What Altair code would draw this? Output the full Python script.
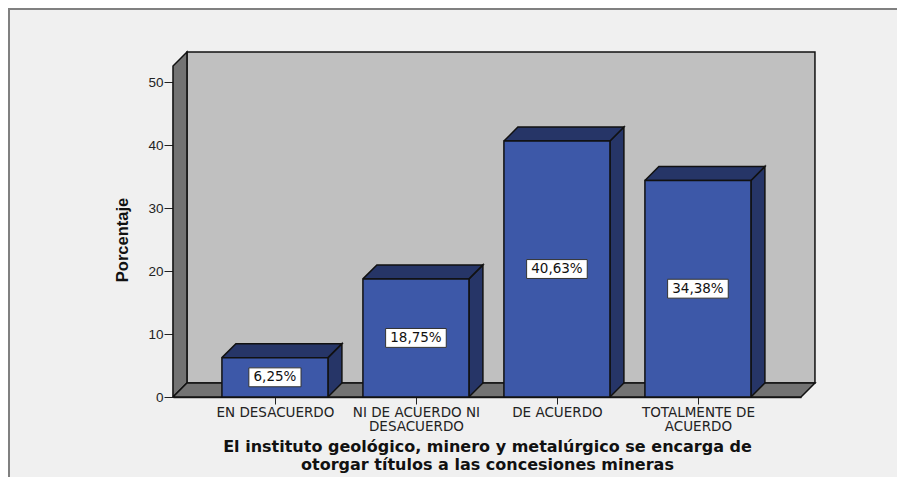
import altair as alt
import pandas as pd

categories = ["EN DESACUERDO", "NI DE ACUERDO NI|DESACUERDO", "DE ACUERDO", "TOTALMENTE DE|ACUERDO"]
values = [6.25, 18.75, 40.63, 34.38]
labels = ["6,25%", "18,75%", "40,63%", "34,38%"]
y_ticks = [0, 10, 20, 30, 40, 50]
x_title = ["El instituto geológico, minero y metalúrgico se encarga de",
           "otorgar títulos a  las concesiones mineras"]
y_title = "Porcentaje"

X0, X1 = -0.723, 3.731      # horizontal extent of the front of the plot, in category units
Y_TOP = 52.54               # top of the left wall
DX, DY = 0.099, 2.22        # depth of the 3D effect in data units
HW = 0.376                  # half width of a bar
BOX_W = {0: 0.185, 1: 0.215, 2: 0.215, 3: 0.215}
BOX_H = 1.5

FRONT, DARK = "#3D58A8", "#263567"
WALL, SIDEWALL = "#C0C0C0", "#737373"
BG = "#F0F0F0"


def poly(rows, pid, pts):
    for i, (x, y) in enumerate(pts):
        rows.append({"pid": pid, "i": i, "x": x, "y": y})


back, grey, dark = [], [], []
poly(back, "back", [(X0 + DX, DY), (X1 + DX, DY), (X1 + DX, Y_TOP + DY), (X0 + DX, Y_TOP + DY), (X0 + DX, DY)])
poly(grey, "left", [(X0, 0), (X0 + DX, DY), (X0 + DX, Y_TOP + DY), (X0, Y_TOP), (X0, 0)])
poly(grey, "floor", [(X0, 0), (X1, 0), (X1 + DX, DY), (X0 + DX, DY), (X0, 0)])
for k, v in enumerate(values):
    a, b = k - HW, k + HW
    poly(dark, f"side{k}", [(b, 0), (b + DX, DY), (b + DX, v + DY), (b, v), (b, 0)])
    poly(dark, f"top{k}", [(a, v), (b, v), (b + DX, v + DY), (a + DX, v + DY), (a, v)])

bars = pd.DataFrame({
    "a": [k - HW for k in range(4)], "b": [k + HW for k in range(4)],
    "zero": [0] * 4, "v": values, "c": list(range(4)), "mid": [v / 2 for v in values],
    "label": labels,
    "l": [k - BOX_W[k] for k in range(4)], "r": [k + BOX_W[k] for k in range(4)],
    "lo": [v / 2 - BOX_H for v in values], "hi": [v / 2 + BOX_H for v in values],
})

xs = alt.Scale(domain=[X0, X1], nice=False, zero=False)
ys = alt.Scale(domain=[0, 50], nice=False)
label_array = "[" + ",".join(
    "[" + ",".join(f"'{p}'" for p in c.split("|")) + "]" for c in categories) + "]"

x_axis = alt.Axis(values=[0, 1, 2, 3], labelExpr=f"{label_array}[datum.value]", title=x_title,
                  grid=False, tickSize=7, tickColor="#222222", domainColor="#222222", domainWidth=1.5,
                  labelFont="DejaVu Sans", labelFontSize=13.5, labelColor="#222222", labelPadding=1,
                  labelLineHeight=14.5, labelAngle=0, labelOverlap=False, labelBound=False, labelFlush=False,
                  titleFont="DejaVu Sans", titleFontSize=16, titleFontWeight="bold", titleColor="#111111",
                  titleLineHeight=18.7, titlePadding=5)
y_axis = alt.Axis(values=y_ticks, title=y_title, grid=False, tickSize=9, tickColor="#222222",
                  domainColor="#222222", domainWidth=1.5, labelFont="Liberation Sans", labelFontSize=13.5,
                  labelColor="#222222", labelPadding=1,
                  titleFont="Liberation Sans", titleFontSize=16.5, titleFontWeight="bold",
                  titleColor="#111111", titlePadding=17)


def faces(rows, fill):
    return alt.Chart(pd.DataFrame(rows)).mark_line(
        fill=fill, stroke="#111111", strokeWidth=1.5, clip=False, strokeJoin="miter"
    ).encode(
        x=alt.X("x:Q", scale=xs),
        y=alt.Y("y:Q", scale=ys),
        detail="pid:N",
        order="i:Q",
    )


axes = alt.Chart(bars).mark_point(opacity=0).encode(
    x=alt.X("c:Q", scale=xs, axis=x_axis),
    y=alt.Y("v:Q", scale=ys, axis=y_axis),
)
fronts = alt.Chart(bars).mark_rect(fill=FRONT, stroke="#111111", strokeWidth=1.5).encode(
    x=alt.X("a:Q", scale=xs), x2="b:Q",
    y=alt.Y("zero:Q", scale=ys), y2="v:Q",
)
boxes = alt.Chart(bars).mark_rect(fill="white", stroke="#333333", strokeWidth=1).encode(
    x=alt.X("l:Q", scale=xs), x2="r:Q",
    y=alt.Y("lo:Q", scale=ys), y2="hi:Q",
)
texts = alt.Chart(bars).mark_text(font="DejaVu Sans", fontSize=13.5, color="#111111").encode(
    x=alt.X("c:Q", scale=xs),
    y=alt.Y("mid:Q", scale=ys),
    text="label:N",
)

# picture frame: top and left edges only, as in the reference
frame_top = alt.Chart(bars).mark_rule(color="#808080", strokeWidth=2).encode(
    x=alt.value(-164), x2=alt.value(740), y=alt.value(-73))
frame_left = alt.Chart(bars).mark_rule(color="#808080", strokeWidth=2).encode(
    x=alt.value(-164), y=alt.value(-74), y2=alt.value(405))

chart = alt.layer(
    axes, frame_top, frame_left,
    faces(back, WALL), faces(grey, SIDEWALL), faces(dark, DARK),
    fronts, boxes, texts,
).properties(
    width=628, height=315,
    padding={"left": 165, "top": 74, "right": 96, "bottom": 80},
    background=BG,
    autosize=alt.AutoSizeParams(type="none"),
).configure_view(stroke=None)

chart.save("out.html", embed_options={"renderer": "svg", "actions": False})
